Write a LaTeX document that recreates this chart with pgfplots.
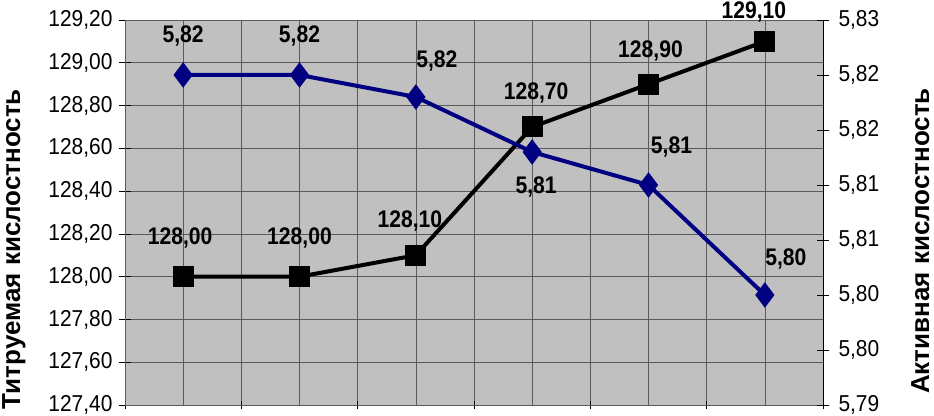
\documentclass[border=0pt]{standalone}
\usepackage{fontspec}
\setmainfont{Liberation Sans}
\newfontfamily\tickfont[FakeStretch=0.91]{Liberation Sans}
\newfontfamily\labelfont[FakeStretch=0.88]{Liberation Sans}
\usepackage{pgfplots}
\usepackage{pgfplotstable}
\pgfplotsset{compat=1.18}
\definecolor{plotgray}{RGB}{192,192,192}
\definecolor{navyline}{RGB}{0,0,128}
\definecolor{gridgray}{RGB}{90,90,90}

% dx, dy: label offset from the point, in pt
\pgfplotstableread{
x titr dx dy
1 128.00 -3 39
2 128.00 0 39
3 128.10 -6 34
4 128.70 4 34
5 128.90 2 33
6 129.10 -11 29
}\titrtable

\pgfplotstableread{
x act dx dy
1 5.820 0 39
2 5.820 0 39
3 5.818 21 36
4 5.813 4 -35
5 5.810 23 38
6 5.800 21 36
}\acttable

\tikzset{
  sidelabel/.style={font=\fontsize{26}{30}\selectfont\bfseries,
    rotate=90, anchor=north, inner sep=0pt},
}

\pgfplotsset{
  twin/.style={
    width=698pt, height=385pt, scale only axis,
    xmin=0.5, xmax=6.5,
    font=\tickfont\fontsize{23}{27}\selectfont,
    /pgf/number format/use comma,
    /pgf/number format/fixed,
    /pgf/number format/fixed zerofill,
    /pgf/number format/precision=2,
    /pgf/number format/1000 sep={},
    /pgf/number format/assume math mode=true,
    tick style={black, line width=0.7pt},
    major tick length=12pt,
    tick align=center,
  },
  labels/.style={
    nodes near coords,
    point meta=y,
    visualization depends on={\thisrow{dx} \as \dx},
    visualization depends on={\thisrow{dy} \as \dy},
    every node near coord/.append style={font=\labelfont\fontsize{24}{28}\selectfont\bfseries,
      text=black, anchor=center, xshift=\dx pt, yshift=\dy pt, inner sep=0pt},
  },
}

\begin{document}
\begin{tikzpicture}
\begin{axis}[twin,
  axis background/.style={fill=plotgray},
  axis line style={gridgray, line width=0.7pt},
  ymin=127.4, ymax=129.2,
  ytick={127.4,127.6,127.8,128.0,128.2,128.4,128.6,128.8,129.0,129.2},
  ytick pos=left,
  yticklabel style={xshift=-3pt},
  xtick={0.5,1.5,2.5,3.5,4.5,5.5,6.5},
  xticklabels={},
  xtick pos=bottom,
  xtick style={/pgfplots/major tick length=8pt},
  minor xtick={1,2,3,4,5,6},
  minor tick length=0pt,
  xmajorgrids, xminorgrids, ymajorgrids,
  grid style={gridgray, line width=0.6pt},
  minor grid style={gridgray, line width=0.6pt},
  ylabel={Титруемая кислостность},
  every axis y label/.style={sidelabel,
    at={(axis description cs:-0.176,0.405)}},
  clip=false,
]
\addplot[black, line width=4pt, mark=square*, mark size=8.5pt, labels]
  table[x=x, y=titr] {\titrtable};
\end{axis}
\begin{axis}[twin,
  axis y line*=right,
  axis x line=none,
  ymin=5.79, ymax=5.825,
  ytick={5.79,5.795,5.80,5.805,5.81,5.815,5.82,5.825},
  yticklabels={{5,79},{5,80},{5,80},{5,81},{5,81},{5,82},{5,82},{5,83}},
  yticklabel style={xshift=6pt},
  ylabel={Активная кислостность},
  every axis y label/.style={sidelabel,
    at={(axis description cs:1.126,0.426)}},
  clip=false,
]
\addplot[navyline, line width=4pt, mark=diamond*, mark size=9.5pt, labels]
  table[x=x, y=act] {\acttable};
\end{axis}
\pgfresetboundingbox
\useasboundingbox ([xshift=-125pt, yshift=-10pt] current axis.south west)
  rectangle ([xshift=111pt, yshift=20pt] current axis.north east);
\end{tikzpicture}
\end{document}
